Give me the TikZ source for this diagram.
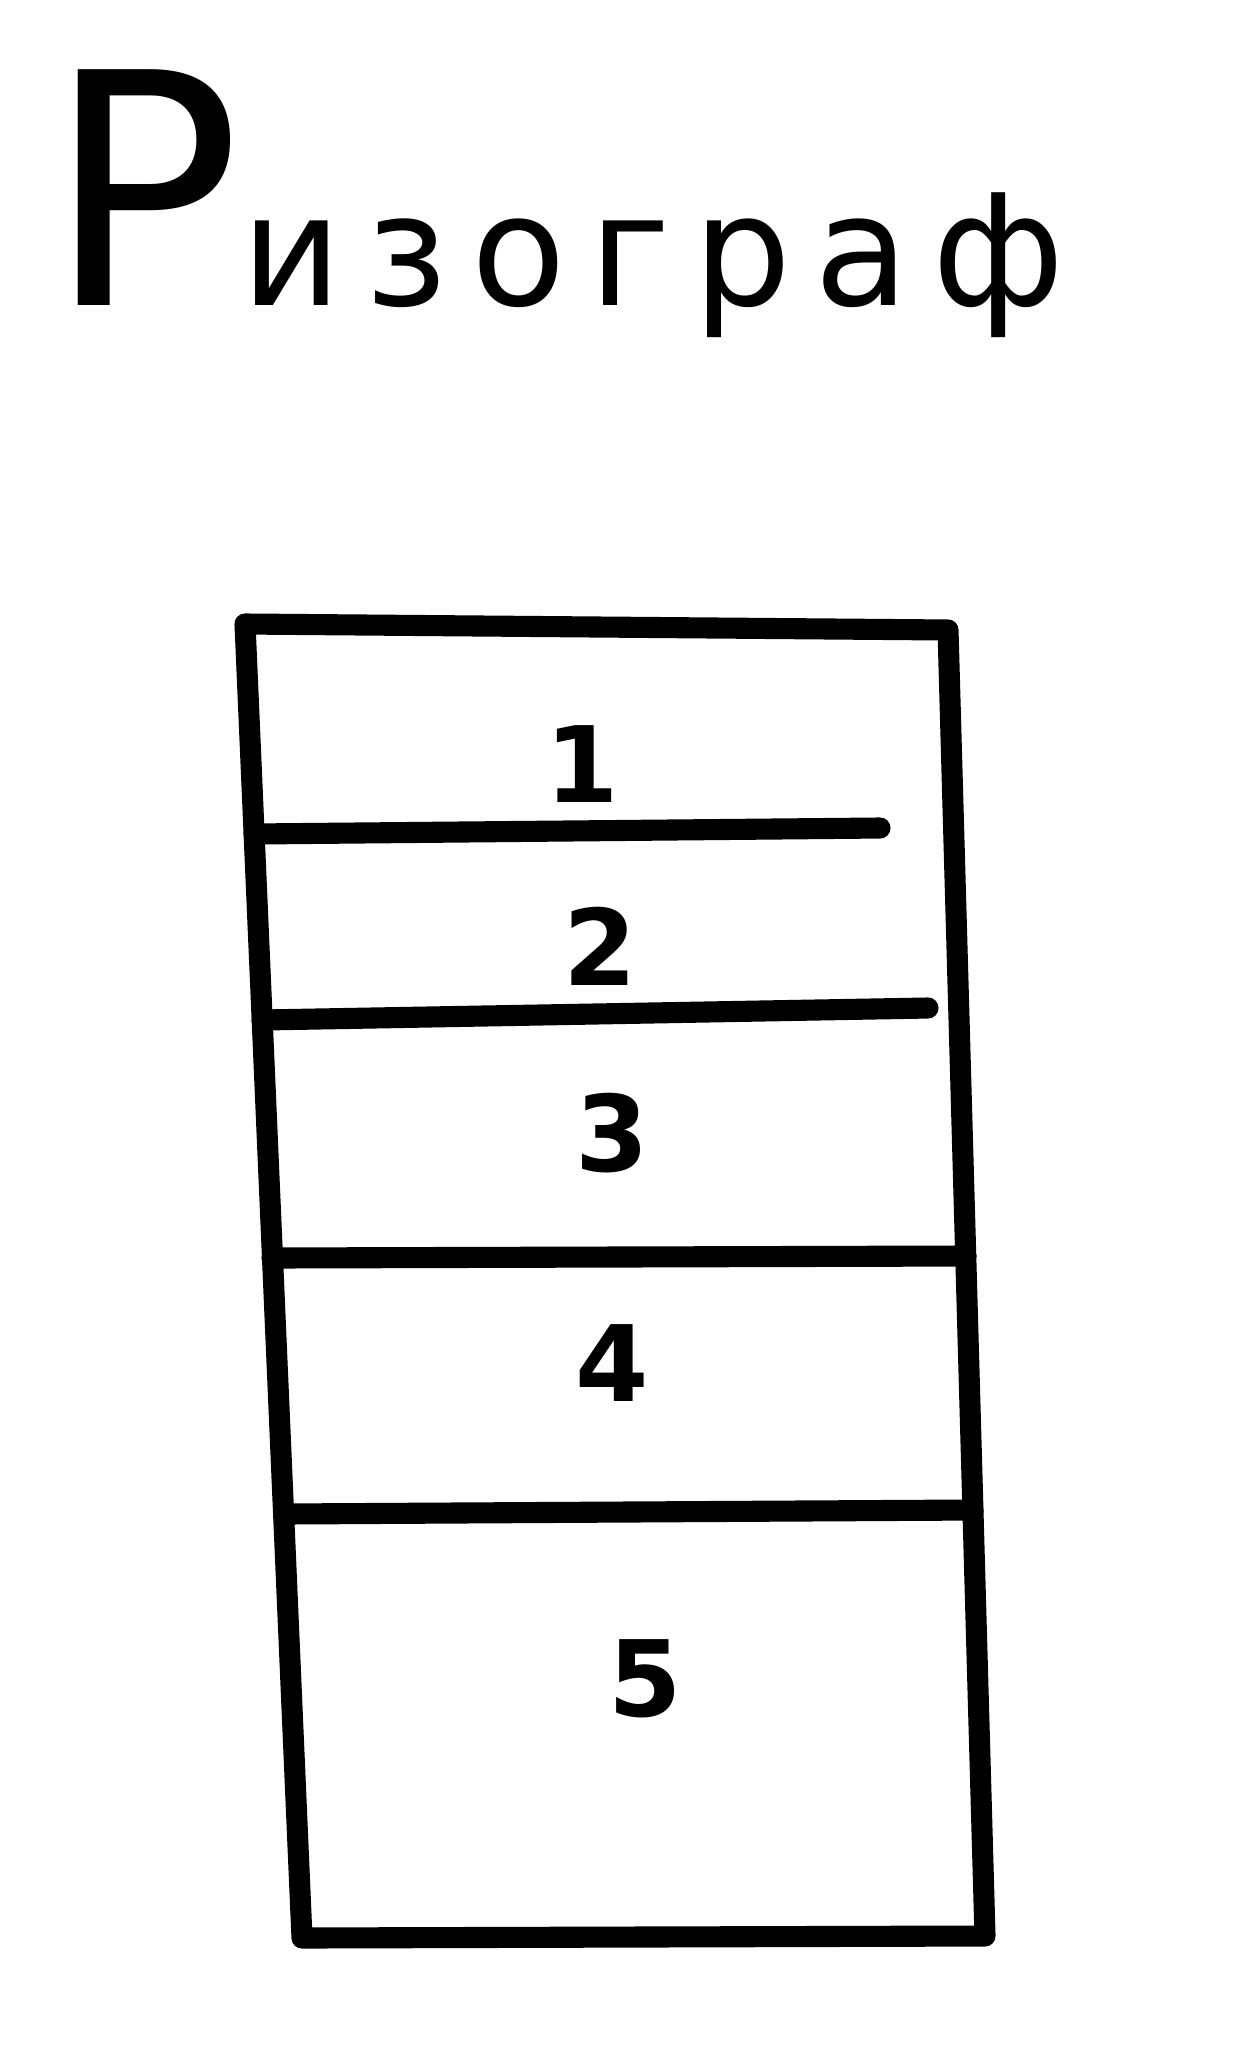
\documentclass[tikz,border=0pt]{standalone}
\usepackage{fontspec}
\setmainfont{DejaVu Sans}

\begin{document}
\begin{tikzpicture}[x=0.01cm,y=-0.01cm]
  \tikzstyle{frame} = [line width=6pt,line cap=round,line join=round]
  \tikzstyle{cut}   = [line width=6pt,line cap=round]
  \tikzstyle{num}   = [font=\fontsize{30}{30}\selectfont\bfseries]
  \tikzstyle{title} = [anchor=base west,inner sep=0pt,font=\fontsize{44}{44}\selectfont]
  \useasboundingbox (0,0) rectangle (1259,2066);
  % Title
  \path (46,305) node[title](ttl) {{\fontsize{92}{92}\selectfont Р}\addfontfeature{LetterSpace=15}изограф};
  % Outer frame
  \coordinate (tl) at (245,624);
  \coordinate (tr) at (948,630);
  \coordinate (br) at (985,1936);
  \coordinate (bl) at (302,1938);
  \draw[frame] (tl) -- (tr) -- (br) -- (bl) -- cycle;
  % Dividers between the sections
  \coordinate (c1l) at (254,834);  \coordinate (c1r) at (880,828);
  \coordinate (c2l) at (262,1020); \coordinate (c2r) at (928,1008);
  \coordinate (c3l) at (272,1258); \coordinate (c3r) at (966,1256);
  \coordinate (c4l) at (284,1514); \coordinate (c4r) at (973,1510);
  \draw[cut] (c1l) -- (c1r);
  \draw[cut] (c2l) -- (c2r);
  \draw[cut] (c3l) -- (c3r);
  \draw[cut] (c4l) -- (c4r);
  % Section numbers
  \path (582,764)  node[num](n1) {1};
  \path (600,946)  node[num](n2) {2};
  \path (612,1133) node[num](n3) {3};
  \path (612,1363) node[num](n4) {4};
  \path (645,1679) node[num](n5) {5};
\end{tikzpicture}
\end{document}
